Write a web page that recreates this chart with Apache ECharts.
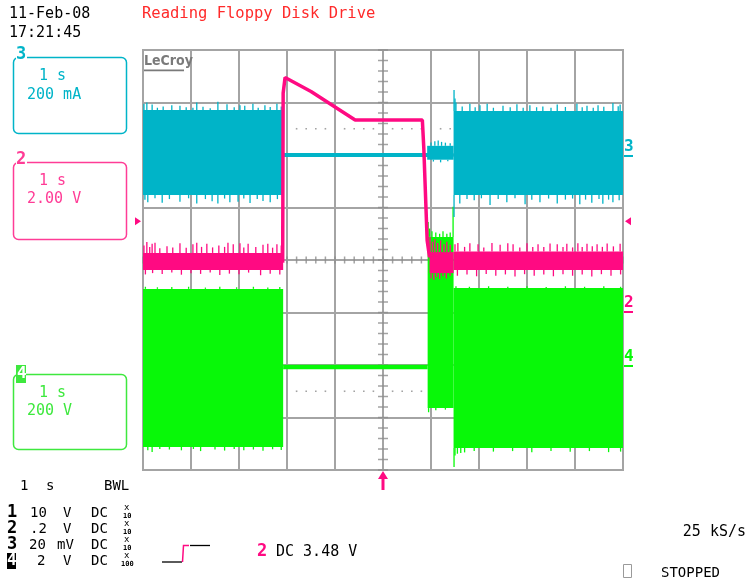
<!DOCTYPE html>
<html><head><meta charset="utf-8">
<script src="https://cdn.jsdelivr.net/npm/echarts@6.0.0/dist/echarts.min.js"></script>
<style>html,body{margin:0;padding:0;background:#fff}#c{width:748px;height:581px}</style>
</head><body><div id="c"></div>
<script>
// ---------- DATA (time in s, ch2 in V, ch3 in mA, ch4 in V) ----------
// dense noise bands: [tStart, tEnd, low, high]
const ch2Bands = [[0.00, 2.92, 1.62, 2.27], [5.97, 6.47, 1.50, 2.30], [6.47, 10.00, 1.62, 2.32]];
const ch3Bands = [[0.00, 2.92, -152, 171], [5.92, 6.47, -18, 35], [6.47, 10.00, -152, 168]];
const ch4Bands = [[0.00, 2.92, -312, 290], [5.93, 6.47, -164, 488], [6.47, 10.00, -316, 293]];
// spike tips: [t, tipValue]
const ch2Spikes = [
 [0.02,2.55],[0.08,2.69],[0.14,2.50],[0.19,2.62],[0.25,2.66],[0.35,2.45],[0.50,2.52],[0.62,2.48],[0.77,2.64],[0.90,2.47],
 [1.04,2.60],[1.12,2.66],[1.22,2.50],[1.33,2.62],[1.45,2.48],[1.58,2.55],[1.70,2.50],[1.77,2.66],[1.88,2.60],[2.02,2.64],
 [2.10,2.48],[2.19,2.62],[2.35,2.50],[2.50,2.58],[2.60,2.62],[2.70,2.47],[2.79,2.60],[2.88,2.55],
 [0.05,1.45],[0.20,1.50],[0.40,1.47],[0.60,1.52],[0.80,1.44],[1.00,1.50],[1.20,1.47],[1.40,1.52],[1.60,1.43],[1.80,1.48],
 [2.00,1.46],[2.20,1.52],[2.45,1.42],[2.65,1.48],[2.85,1.45],
 [5.98,2.88],[6.03,2.70],[6.08,2.80],[6.14,2.65],[6.20,2.75],[6.27,2.60],[6.33,2.70],[6.40,2.58],
 [6.00,1.30],[6.06,1.24],[6.12,1.35],[6.18,1.28],[6.25,1.38],[6.32,1.30],[6.40,1.40],
 [6.50,2.60],[6.56,2.65],[6.70,2.50],[6.81,2.64],[6.98,2.60],[7.10,2.48],[7.27,2.65],[7.44,2.58],[7.60,2.64],[7.71,2.60],
 [7.85,2.48],[8.00,2.64],[8.12,2.50],[8.23,2.60],[8.35,2.50],[8.48,2.63],[8.63,2.60],[8.75,2.50],[8.83,2.62],[8.95,2.48],
 [9.06,2.64],[9.15,2.50],[9.25,2.62],[9.36,2.52],[9.46,2.60],[9.57,2.50],[9.67,2.63],[9.80,2.52],[9.94,2.62],
 [6.55,1.40],[6.75,1.45],[6.95,1.38],[7.15,1.47],[7.35,1.40],[7.55,1.45],[7.75,1.37],[7.95,1.46],[8.15,1.40],[8.35,1.45],
 [8.55,1.38],[8.75,1.46],[8.95,1.40],[9.15,1.45],[9.35,1.37],[9.55,1.46],[9.75,1.40],[9.95,1.45]
];
const ch3Spikes = [
 [0.02,195],[0.08,200],[0.19,192],[0.30,180],[0.42,185],[0.60,190],[0.77,188],[0.90,182],[1.04,180],[1.12,200],
 [1.25,184],[1.40,178],[1.56,203],[1.75,193],[1.90,182],[2.02,190],[2.12,188],[2.29,195],[2.40,180],[2.54,190],
 [2.65,183],[2.79,195],[2.88,185],
 [0.04,-170],[0.10,-180],[0.25,-165],[0.40,-182],[0.55,-168],[0.77,-178],[0.95,-165],[1.12,-185],[1.30,-168],[1.44,-176],
 [1.56,-185],[1.70,-166],[1.81,-180],[1.98,-178],[2.10,-166],[2.23,-183],[2.38,-168],[2.50,-175],[2.65,-180],[2.80,-168],
 [6.00,48],[6.08,52],[6.15,55],[6.22,50],[6.30,47],[6.40,45],
 [6.05,-25],[6.20,-28],[6.35,-24],
 [6.48,248],[6.50,215],[6.52,200],[6.65,185],[6.81,195],[6.92,182],[7.02,190],[7.17,195],[7.30,180],[7.50,188],
 [7.65,182],[7.79,193],[7.92,180],[8.06,190],[8.20,182],[8.33,185],[8.50,180],[8.63,192],[8.80,183],[9.04,195],
 [9.15,182],[9.25,188],[9.38,180],[9.48,190],[9.60,184],[9.79,198],[9.90,186],[9.94,192],
 [6.48,-236],[6.60,-185],[6.75,-168],[6.90,-172],[7.05,-165],[7.23,-190],[7.40,-168],[7.58,-180],[7.75,-165],[7.96,-188],
 [8.10,-170],[8.27,-180],[8.45,-166],[8.63,-185],[8.80,-170],[8.95,-166],[9.10,-188],[9.22,-170],[9.35,-182],[9.50,-168],
 [9.58,-186],[9.70,-170],[9.79,-180],[9.92,-172]
];
const ch4Spikes = [
 [0.05,298],[0.30,296],[0.60,297],[0.95,298],[1.30,295],[1.60,298],[1.95,296],[2.30,298],[2.60,295],[2.85,297],
 [0.10,-325],[0.19,-331],[0.35,-320],[0.55,-322],[0.80,-325],[1.05,-320],[1.20,-328],[1.50,-322],[1.70,-326],[1.90,-320],
 [2.10,-325],[2.30,-322],[2.50,-327],[2.70,-321],[2.88,-324],
 [5.94,545],[5.97,520],[6.02,510],[6.10,505],[6.18,500],[6.25,510],[6.33,500],[6.40,505],
 [5.95,-180],[6.10,-172],[6.30,-170],
 [6.46,603],[6.52,300],[6.80,298],[7.20,300],[7.60,298],[8.00,300],[8.40,297],[8.80,300],[9.20,298],[9.60,300],[9.95,298],
 [6.48,-389],[6.50,-345],[6.55,-338],[6.62,-335],[6.70,-333],[6.90,-328],[7.30,-330],[7.70,-328],[8.10,-332],[8.50,-328],
 [8.90,-330],[9.30,-328],[9.70,-332],[9.95,-330]
];
// single traces [t, value]
const ch2Trace = [[2.91,1.9],[2.92,8.36],[2.96,8.95],[3.00,9.00],[3.50,8.42],[4.00,7.83],[4.42,7.33],[5.82,7.33],[5.85,6.26],[5.92,2.74],[5.97,2.10]];
const ch3Trace = [[2.92,0],[6.47,0]];
const ch4Trace = [[2.92,-8],[5.93,-8]];
const trigLevel = 3.48;
// channel scales: volts(or mA)/div and zero position in divisions
const ch2Scale = {perDiv: 2, zeroDiv: -1};
const ch3Scale = {perDiv: 200, zeroDiv: 2};
const ch4Scale = {perDiv: 200, zeroDiv: -2};

// ---------- CHART ----------
const C2 = '#ff0a82', C3 = '#00b4c8', C4 = '#08f808', GRID = '#a4a4a4';
const MONO = '"DejaVu Sans Mono", "Liberation Mono", monospace';
const chart = echarts.init(document.getElementById('c'), null, {renderer: 'canvas'});

function axisFor(s){ return {type:'value', show:false, min:(-4 - s.zeroDiv)*s.perDiv, max:(4 - s.zeroDiv)*s.perDiv}; }
function spikeData(bands, spikes){
  return spikes.map(([t, tip]) => {
    const b = bands.find(b => t >= b[0] && t <= b[1]) || [t, t, tip, tip];
    return [t, tip > b[3] ? b[3] : b[2], tip];
  });
}
function bandSeries(bands, yIdx, color, z){
  return {type:'custom', xAxisIndex:0, yAxisIndex:yIdx, z, silent:true, clip:true, animation:false,
    encode:{x:[0,1], y:[2,3]}, data:bands,
    renderItem(p, api){
      const a = api.coord([api.value(0), api.value(3)]);
      const b = api.coord([api.value(1), api.value(2)]);
      return {type:'rect', shape:{x:a[0], y:a[1], width:b[0]-a[0], height:b[1]-a[1]}, style:{fill:color}};
    }};
}
function spikeSeries(data, yIdx, color, z){
  return {type:'custom', xAxisIndex:0, yAxisIndex:yIdx, z, silent:true, clip:true, animation:false,
    encode:{x:0, y:[1,2]}, data,
    renderItem(p, api){
      const a = api.coord([api.value(0), api.value(1)]);
      const b = api.coord([api.value(0), api.value(2)]);
      return {type:'line', shape:{x1:a[0], y1:a[1], x2:b[0], y2:b[1]}, style:{stroke:color, lineWidth:1.3}};
    }};
}
function traceSeries(data, yIdx, color, w, z){
  return {type:'line', xAxisIndex:0, yAxisIndex:yIdx, z, data, showSymbol:false, symbol:'none', silent:true,
    animation:false, lineStyle:{color, width:w}};
}
// graticule ticks
const vTicks = [], hTicks = [], dots = [];
for (let i = 0; i <= 40; i++) vTicks.push([5, -4 + i * 0.2]);
for (let i = 0; i <= 50; i++) { hTicks.push([i * 0.2, 0]); if (i % 5) { dots.push([i * 0.2, 2.5]); dots.push([i * 0.2, -2.5]); } }

function T(text, x, y, o){
  o = o || {};
  const align = o.align || 'left';
  return {type:'text', x, y, z:o.z || 110, silent:true, style:{text, font:o.font || ('14px ' + MONO), fill:o.fill || '#000',
    align, textAlign:align, verticalAlign:'middle', textVerticalAlign:'middle'}};
}
const g = [];
g.push(T('11-Feb-08', 9, 14, {font:'15px ' + MONO}));
g.push(T('17:21:45', 9, 33, {font:'15px ' + MONO}));
g.push(T('Reading Floppy Disk Drive', 142, 14, {font:'15.5px ' + MONO, fill:'#ff2a2a'}));
// channel boxes
function box(y, h, color, label, l1, l2, l1y, l2y, inverse){
  g.push({type:'rect', z:100, silent:true, shape:{x:13.5, y:y + 0.5, width:113, height:h, r:5}, style:{fill:'none', stroke:color, lineWidth:1.5}});
  if (inverse) {
    g.push({type:'rect', z:101, silent:true, shape:{x:16, y:y - 9, width:10, height:18}, style:{fill:color}});
    g.push(T(label, 17, y, {font:'bold 16px ' + MONO, fill:'#fff', z:120}));
  } else {
    g.push({type:'rect', z:101, silent:true, shape:{x:16, y:y - 3, width:11, height:6}, style:{fill:'#fff'}});
    g.push(T(label, 16, y - 2, {font:'bold 17px ' + MONO, fill:color, z:120}));
  }
  g.push(T(l1, 39, l1y, {font:'15px ' + MONO, fill:color}));
  g.push(T(l2, 27, l2y, {font:'15px ' + MONO, fill:color}));
}
box(57, 76, C3, '3', '1 s', '200 mA', 76, 95, false);
box(162, 77, '#ff3c96', '2', '1 s', '2.00 V', 181, 199, false);
box(374, 75, '#3ee83e', '4', '1 s', '200 V', 393, 411, true);
// LeCroy logo
g.push(T('LeCroy', 144, 61, {font:'bold 14px "DejaVu Sans Condensed", "DejaVu Sans", sans-serif', fill:'#7a7a7a'}));
g.push({type:'rect', z:100, silent:true, shape:{x:144, y:69.5, width:40, height:1.8}, style:{fill:'#7a7a7a'}});
// right ground markers
function gnd(label, y, color){
  g.push(T(label, 624, y - 8, {font:'bold 16px ' + MONO, fill:color}));
  g.push({type:'rect', z:100, silent:true, shape:{x:624, y:y, width:9, height:2}, style:{fill:color}});
}
gnd('3', 155, C3); gnd('2', 311, C2); gnd('4', 365, C4);
// trigger level arrows (ch2 @ 3.48 V)
const trigY = 50 + 420 * ((4 - ch2Scale.zeroDiv) * ch2Scale.perDiv - trigLevel) / (8 * ch2Scale.perDiv);
g.push({type:'polygon', z:100, silent:true, shape:{points:[[135, trigY - 4], [141, trigY], [135, trigY + 4]]}, style:{fill:C2}});
g.push({type:'polygon', z:100, silent:true, shape:{points:[[631, trigY - 4], [625, trigY], [631, trigY + 4]]}, style:{fill:C2}});
// trigger position arrow at bottom
g.push({type:'polygon', z:100, silent:true, shape:{points:[[383, 471], [388, 479], [378, 479]]}, style:{fill:C2}});
g.push({type:'rect', z:100, silent:true, shape:{x:381.5, y:478, width:3, height:12}, style:{fill:C2}});
// bottom status text
g.push(T('1', 20, 486, {font:'14px ' + MONO}));
g.push(T('s', 46, 486, {font:'14px ' + MONO}));
g.push(T('BWL', 104, 486, {font:'14px ' + MONO}));
const rows = [['1', '10', 30, 'V', 63, '10', 513], ['2', '.2', 30, 'V', 63, '10', 529], ['3', '20', 29, 'mV', 57, '10', 545], ['4', '2', 37, 'V', 63, '100', 561]];
rows.forEach(([n, v, vx, u, ux, pr, y], i) => {
  if (i === 3) {
    g.push({type:'rect', z:100, silent:true, shape:{x:7, y:y - 8, width:9, height:16}, style:{fill:'#000'}});
    g.push(T(n, 7, y, {font:'bold 16px ' + MONO, fill:'#fff', z:120}));
  } else {
    g.push(T(n, 7, y, {font:'bold 17px ' + MONO}));
  }
  g.push(T(v, vx, y, {font:'14px ' + MONO}));
  g.push(T(u, ux, y, {font:'14px ' + MONO}));
  g.push(T('DC', 91, y, {font:'14px ' + MONO}));
  g.push(T('x', 124, y - 5, {font:'9px ' + MONO}));
  g.push(T(pr, pr.length > 2 ? 121 : 123, y + 3, {font:'bold 7px ' + MONO}));
});
// trigger slope symbol
g.push({type:'polyline', z:100, silent:true, shape:{points:[[162, 562], [182, 562]]}, style:{stroke:'#000', lineWidth:1.3, fill:null}});
g.push({type:'polyline', z:100, silent:true, shape:{points:[[182.5, 562], [183.5, 545.5], [189, 545.5]]}, style:{stroke:C2, lineWidth:1.5, fill:null}});
g.push({type:'polyline', z:100, silent:true, shape:{points:[[190, 545.5], [210, 545.5]]}, style:{stroke:'#000', lineWidth:1.3, fill:null}});
g.push(T('2', 257, 552, {font:'bold 17px ' + MONO, fill:C2}));
g.push(T('DC 3.48 V', 276, 552, {font:'15px ' + MONO}));
g.push(T('25 kS/s', 746, 532, {font:'15px ' + MONO, align:'right'}));
g.push({type:'rect', z:100, silent:true, shape:{x:623.5, y:564.5, width:8, height:13}, style:{fill:'none', stroke:'#9a9a9a', lineWidth:1}});
g.push(T('STOPPED', 661, 573, {font:'14px ' + MONO}));

const option = {
  backgroundColor:'#fff',
  animation:false,
  grid:{left:143, top:50, width:480, height:420, show:true, borderColor:GRID, borderWidth:2, backgroundColor:'transparent', containLabel:false, outerBoundsMode:'none'},
  xAxis:[{type:'value', min:0, max:10, interval:1, axisLine:{show:false}, axisTick:{show:false}, axisLabel:{show:false},
    splitLine:{show:true, lineStyle:{color:GRID, width:2}}}],
  yAxis:[
    {type:'value', min:-4, max:4, interval:1, axisLine:{show:false}, axisTick:{show:false}, axisLabel:{show:false},
      splitLine:{show:true, lineStyle:{color:GRID, width:2}}},
    axisFor(ch2Scale), axisFor(ch3Scale), axisFor(ch4Scale)
  ],
  series:[
    {type:'scatter', xAxisIndex:0, yAxisIndex:0, z:1, silent:true, symbol:'rect', symbolSize:[10, 1.5], data:vTicks, itemStyle:{color:'#8c8c8c'}},
    {type:'scatter', xAxisIndex:0, yAxisIndex:0, z:1, silent:true, symbol:'rect', symbolSize:[1.5, 7], data:hTicks, itemStyle:{color:'#8c8c8c'}},
    {type:'scatter', xAxisIndex:0, yAxisIndex:0, z:1, silent:true, symbol:'rect', symbolSize:[1.6, 1.6], data:dots, itemStyle:{color:'#8c8c8c'}},
    bandSeries(ch4Bands, 3, C4, 3), spikeSeries(spikeData(ch4Bands, ch4Spikes), 3, C4, 3), traceSeries(ch4Trace, 3, C4, 4.5, 3),
    traceSeries(ch3Trace, 2, C3, 4, 4), bandSeries(ch3Bands, 2, C3, 4), spikeSeries(spikeData(ch3Bands, ch3Spikes), 2, C3, 4),
    bandSeries(ch2Bands, 1, C2, 5), spikeSeries(spikeData(ch2Bands, ch2Spikes), 1, C2, 5), traceSeries(ch2Trace, 1, C2, 3.5, 5)
  ],
  graphic:{elements:g}
};
chart.setOption(option);
</script></body></html>
